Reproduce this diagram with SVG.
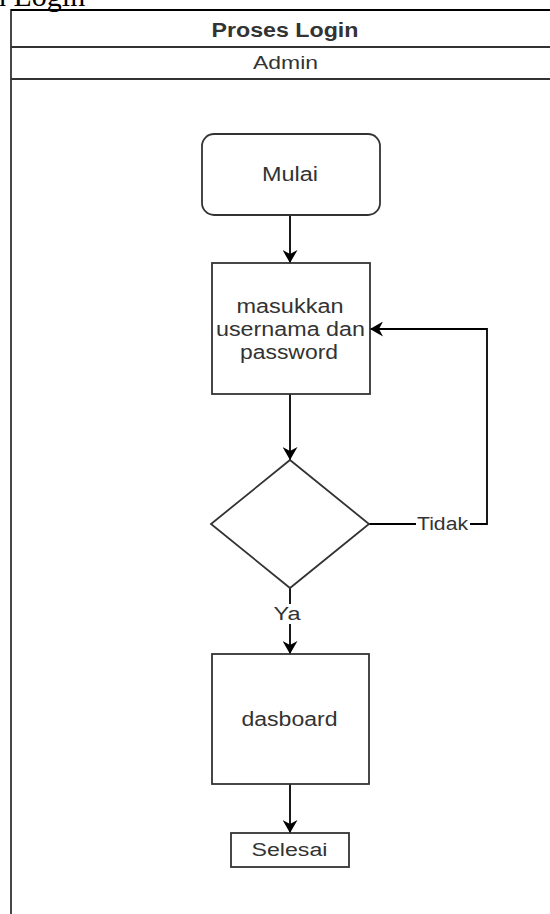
<svg xmlns="http://www.w3.org/2000/svg" width="550" height="914" viewBox="0 0 550 914">
<defs>
<style>
.shape{fill:#fff;stroke:#333;stroke-width:1.8}
.lane{fill:none;stroke:#333;stroke-width:1.8}
.edge{fill:none;stroke:#000;stroke-width:1.8}
.t{font-family:"Liberation Sans",Arial,sans-serif;fill:#333;text-anchor:middle}
.lbl{font-family:"Liberation Sans",Arial,sans-serif;fill:#333;text-anchor:middle;font-size:18px}
</style>
<marker id="arr" viewBox="0 0 13 15" refX="13" refY="7.5" markerWidth="13" markerHeight="15" markerUnits="userSpaceOnUse" orient="auto">
<path d="M0,0 L13,7.5 L0,15 L4,7.5 Z" fill="#000"/>
</marker>
</defs>
<rect width="550" height="914" fill="#fff"/>
<text x="-9" y="6" font-family="'Liberation Serif','Times New Roman',serif" font-size="30" fill="#000">n Login</text>
<g id="pool">
<rect class="lane" x="11" y="10" width="560" height="920"/>
<line x1="11" y1="10" x2="571" y2="10" stroke="#000" stroke-width="2"/>
<line class="lane" x1="11" y1="47" x2="571" y2="47"/>
<line class="lane" x1="11" y1="79" x2="571" y2="79"/>
<text class="t" x="285" y="36.5" font-size="20" font-weight="bold" textLength="147" lengthAdjust="spacingAndGlyphs">Proses Login</text>
<text class="t" x="285.5" y="69" font-size="18" textLength="65" lengthAdjust="spacingAndGlyphs">Admin</text>
</g>
<g id="edges">
<line class="edge" x1="290" y1="215" x2="290" y2="263" marker-end="url(#arr)"/>
<line class="edge" x1="290" y1="394" x2="290" y2="460" marker-end="url(#arr)"/>
<line class="edge" x1="290" y1="588" x2="290" y2="654" marker-end="url(#arr)"/>
<line class="edge" x1="290" y1="784" x2="290" y2="833" marker-end="url(#arr)"/>
<polyline class="edge" points="369,524 487,524 487,329 370,329" marker-end="url(#arr)"/>
<rect x="416" y="514" width="54" height="20" fill="#fff"/>
<text class="lbl" x="442.5" y="530" textLength="51" lengthAdjust="spacingAndGlyphs">Tidak</text>
<rect x="272" y="604" width="30" height="20" fill="#fff"/>
<text class="lbl" x="287" y="620" textLength="27" lengthAdjust="spacingAndGlyphs">Ya</text>
</g>
<g id="mulai">
<rect class="shape" x="202" y="134" width="178" height="81" rx="12" ry="12"/>
<text class="t" x="290" y="181" font-size="20" textLength="56" lengthAdjust="spacingAndGlyphs">Mulai</text>
</g>
<g id="input">
<rect class="shape" x="212" y="263" width="158" height="131"/>
<text class="t" x="290" y="313" font-size="20" textLength="107" lengthAdjust="spacingAndGlyphs">masukkan</text>
<text class="t" x="290.5" y="336" font-size="20" textLength="149" lengthAdjust="spacingAndGlyphs">usernama dan</text>
<text class="t" x="289" y="359" font-size="20" textLength="98" lengthAdjust="spacingAndGlyphs">password</text>
</g>
<g id="decision">
<polygon class="shape" points="290,460 369,524 290,588 211,524"/>
</g>
<g id="dasboard">
<rect class="shape" x="212" y="654" width="157" height="130"/>
<text class="t" x="289.5" y="726" font-size="20" textLength="96" lengthAdjust="spacingAndGlyphs">dasboard</text>
</g>
<g id="selesai">
<rect class="shape" x="231" y="833" width="118" height="34"/>
<text class="t" x="289.5" y="856" font-size="18" textLength="76" lengthAdjust="spacingAndGlyphs">Selesai</text>
</g>
</svg>
